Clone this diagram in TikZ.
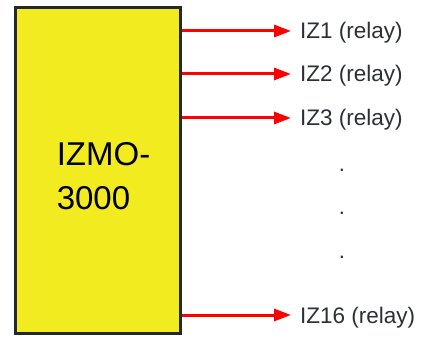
\documentclass[tikz,border=0pt]{standalone}
\usepackage{fontspec}
\setmainfont{Liberation Sans}
\usetikzlibrary{arrows.meta}
\definecolor{izyellow}{HTML}{F2EB1F}
\definecolor{izframe}{HTML}{23282E}
\definecolor{iztext}{HTML}{2B2F36}
\definecolor{izred}{HTML}{FF0000}
\begin{document}
\begin{tikzpicture}[x=1pt,y=1pt,
	unit/.style={draw=izframe,line width=3pt,fill=izyellow,minimum width=165pt,minimum height=325pt,inner sep=0pt},
	relay/.style={anchor=west,text=iztext,font=\fontsize{22.5}{26}\selectfont,text height=16pt,text depth=0pt,inner xsep=9pt,inner ysep=0pt},
	wire/.style={draw=izred,line width=3pt,-{Triangle[length=17pt,width=12pt]}}]
	\useasboundingbox (0,0) rectangle (426,338);
	\node[unit] (izmo) at (97.5,167.5) {};
	\node[align=left,font=\fontsize{33}{44}\selectfont] (name) at (103.5,162) {IZMO-\\3000};
	\node[relay] (r1) at (291,307) {IZ1 (relay)};
	\node[relay] (r2) at (291,264) {IZ2 (relay)};
	\node[relay] (r3) at (291,220) {IZ3 (relay)};
	\node[relay] (r16) at (291,23) {IZ16 (relay)};
	\node[text=iztext,anchor=base,font=\fontsize{22}{26}\selectfont] (d1) at (342,166) {.};
	\node[text=iztext,anchor=base,font=\fontsize{22}{26}\selectfont] (d2) at (342,124) {.};
	\node[text=iztext,anchor=base,font=\fontsize{22}{26}\selectfont] (d3) at (342,80) {.};
	\path
	(izmo.east |- r1.west) edge[wire] (r1.west)
	(izmo.east |- r2.west) edge[wire] (r2.west)
	(izmo.east |- r3.west) edge[wire] (r3.west)
	(izmo.east |- r16.west) edge[wire] (r16.west)
	;
\end{tikzpicture}
\end{document}
